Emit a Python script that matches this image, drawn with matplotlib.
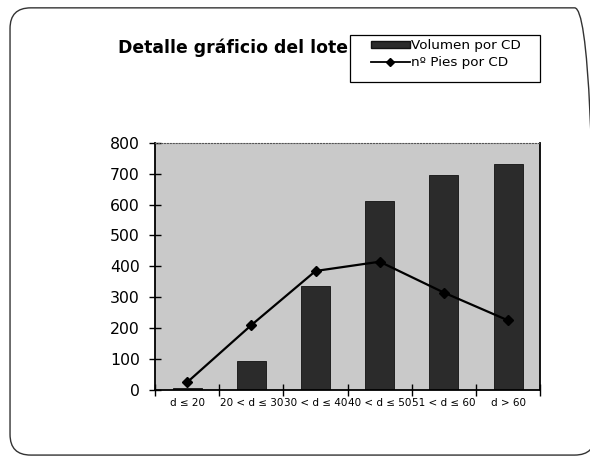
"""
Detalle gráfico del lote — volumen y nº de pies por clase diamétrica
"""

import matplotlib
matplotlib.use("Agg")
matplotlib.rcParams["font.family"] = ["DejaVu Sans"]

import matplotlib.pyplot as plt
import numpy as np
from matplotlib.lines import Line2D
from matplotlib.patches import FancyBboxPatch, Patch, Rectangle

# ============================================================
# Datos
# ============================================================
clases = ["d ≤ 20", "20 < d ≤ 30", "30 < d ≤ 40", "40 < d ≤ 50",
          "51 < d ≤ 60", "d > 60"]
volumen = [5, 95, 335, 610, 695, 730]
n_pies = [25, 210, 385, 415, 315, 225]

# ============================================================
# Figura
# ============================================================
fig = plt.figure(figsize=(5.9, 4.62), dpi=100)
fig.patch.set_facecolor("white")

# marco redondeado (el borde derecho queda fuera de la imagen)
marco = FancyBboxPatch((0.017, 0.015), 0.992, 0.968,
                       boxstyle="round,pad=0,rounding_size=0.035",
                       mutation_aspect=5.9 / 4.62,
                       transform=fig.transFigure, fill=False,
                       edgecolor="#333333", linewidth=1.0)
fig.patches.append(marco)

ax = fig.add_axes([0.263, 0.156, 0.6525, 0.535])
ax.set_facecolor("#c9c9c9")

x = np.arange(len(clases))
ax.bar(x, volumen, width=0.45, color="#2b2b2b", edgecolor="#111111",
       linewidth=0.6, zorder=2)
ax.plot(x, n_pies, color="black", linewidth=1.6, marker="D",
        markersize=5.5, zorder=3)

ax.set_xlim(-0.5, len(clases) - 0.5)
ax.set_ylim(0, 800)
ax.set_yticks(range(0, 801, 100))
ax.set_xticks(x)
ax.set_xticklabels(clases, fontsize=7.5)
ax.set_xticks(np.arange(-0.5, len(clases)), minor=True)
ax.tick_params(axis="x", which="major", length=0, pad=5.5)
ax.tick_params(axis="x", which="minor", direction="inout", length=8,
               width=1)
ax.tick_params(axis="y", direction="inout", length=8, width=1,
               labelsize=11.3, pad=7)

for s in ["left", "bottom", "right"]:
    ax.spines[s].set_color("black")
    ax.spines[s].set_linewidth(1.3)
ax.spines["top"].set_color("#555555")
ax.spines["top"].set_linestyle(":")

fig.text(0.200, 0.896, "Detalle gráficio del lote", fontsize=12.4,
         fontweight="bold", va="center", ha="left")

# leyenda: marco propio + contenido
fig.patches.append(Rectangle((0.593, 0.8225), 0.322, 0.102,
                             transform=fig.transFigure, fill=False,
                             edgecolor="black", linewidth=0.9))
handles = [Patch(facecolor="#2b2b2b", edgecolor="#111111"),
           Line2D([], [], color="black", linewidth=1.3, marker="D",
                  markersize=4)]
fig.legend(handles, ["Volumen por CD", "nº Pies por CD"],
           loc="upper left", bbox_to_anchor=(0.628, 0.915),
           fontsize=9.7, frameon=False, handlelength=2.9,
           handleheight=0.45, handletextpad=0.1, borderpad=0,
           labelspacing=0.3, borderaxespad=0)

fig.savefig("out.png", dpi=100)
plt.close()
